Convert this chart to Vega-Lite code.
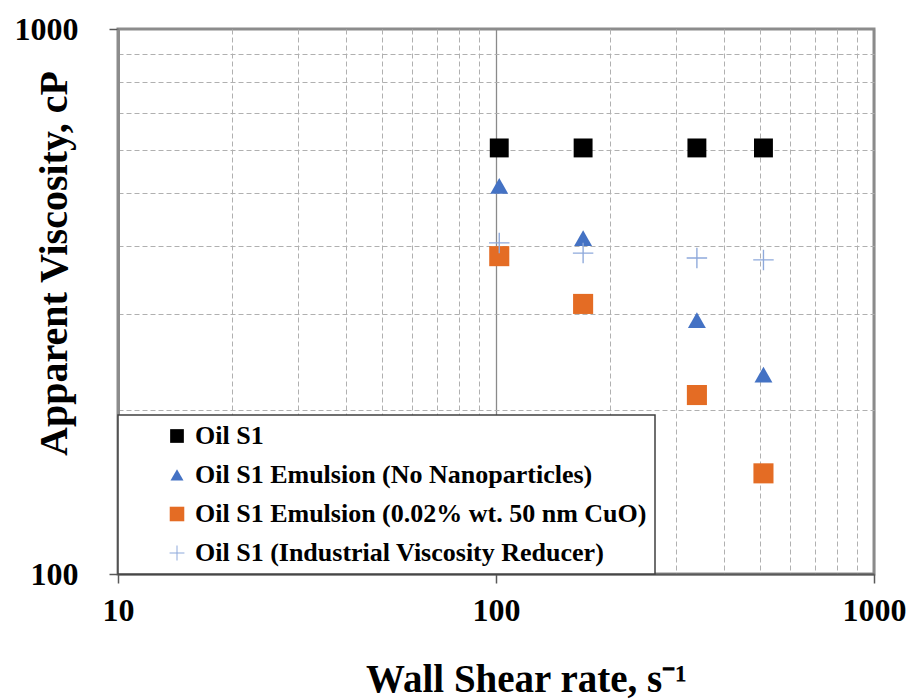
{
  "$schema": "https://vega.github.io/schema/vega-lite/v6.json",
  "width": 756,
  "height": 545,
  "autosize": {"type": "none"},
  "padding": {"left": 118, "top": 29, "right": 38, "bottom": 126},
  "background": "white",
  "config": {
    "font": "Liberation Serif",
    "view": {"stroke": "#8c8c8c", "strokeWidth": 3},
    "legend": {
      "orient": "bottom-left",
      "offset": 0,
      "padding": 8,
      "symbolOffset": 38,
      "rowPadding": 13,
      "fillColor": "white",
      "strokeColor": "#404040",
      "strokeWidth": 1.5,
      "labelFont": "Liberation Serif",
      "labelFontWeight": "bold",
      "labelFontSize": 26,
      "labelColor": "black",
      "labelLimit": 0,
      "labelOffset": 5,
      "symbolSize": 200,
      "symbolStrokeWidth": 0
    }
  },
  "data": {
    "values": [
      {"series": "Oil S1", "rate": 102, "visc": 605},
      {"series": "Oil S1", "rate": 170, "visc": 605},
      {"series": "Oil S1", "rate": 340, "visc": 605},
      {"series": "Oil S1", "rate": 510, "visc": 605},
      {"series": "Oil S1 Emulsion (No Nanoparticles)", "rate": 102, "visc": 515},
      {"series": "Oil S1 Emulsion (No Nanoparticles)", "rate": 170, "visc": 413},
      {"series": "Oil S1 Emulsion (No Nanoparticles)", "rate": 340, "visc": 292},
      {"series": "Oil S1 Emulsion (No Nanoparticles)", "rate": 510, "visc": 232},
      {"series": "Oil S1 Emulsion (0.02% wt. 50 nm CuO)", "rate": 102, "visc": 383},
      {"series": "Oil S1 Emulsion (0.02% wt. 50 nm CuO)", "rate": 170, "visc": 313},
      {"series": "Oil S1 Emulsion (0.02% wt. 50 nm CuO)", "rate": 340, "visc": 213},
      {"series": "Oil S1 Emulsion (0.02% wt. 50 nm CuO)", "rate": 510, "visc": 153},
      {"series": "Oil S1 (Industrial Viscosity Reducer)", "rate": 102, "visc": 405},
      {"series": "Oil S1 (Industrial Viscosity Reducer)", "rate": 170, "visc": 388},
      {"series": "Oil S1 (Industrial Viscosity Reducer)", "rate": 340, "visc": 380},
      {"series": "Oil S1 (Industrial Viscosity Reducer)", "rate": 510, "visc": 377}
    ]
  },
  "resolve": {"axis": {"x": "independent", "y": "independent"}},
  "layer": [
    {
      "mark": {"type": "point", "opacity": 0},
      "encoding": {
        "x": {
          "field": "rate", "type": "quantitative",
          "scale": {"type": "log", "domain": [10, 1000]},
          "axis": {
            "orient": "bottom",
            "values": [20, 30, 40, 50, 60, 70, 80, 90, 200, 300, 400, 500, 600, 700, 800, 900],
            "grid": true, "gridColor": "#b0b0b0", "gridDash": [5, 3], "gridWidth": 1,
            "labels": false, "ticks": false, "domain": false, "title": null
          }
        },
        "y": {
          "field": "visc", "type": "quantitative",
          "scale": {"type": "log", "domain": [100, 1000]},
          "axis": {
            "orient": "left",
            "values": [200, 300, 400, 500, 600, 700, 800, 900],
            "grid": true, "gridColor": "#b0b0b0", "gridDash": [5, 3], "gridWidth": 1,
            "labels": false, "ticks": false, "domain": false, "title": null
          }
        }
      }
    },
    {
      "mark": {"type": "point", "filled": true, "opacity": 1, "strokeWidth": 0, "size": 380},
      "encoding": {
        "x": {
          "field": "rate", "type": "quantitative",
          "scale": {"type": "log", "domain": [10, 1000]},
          "axis": {
            "orient": "bottom",
            "values": [10, 100, 1000],
            "format": "d",
            "grid": true, "gridColor": "#8a8a8a", "gridWidth": 1.3,
            "domain": true, "domainColor": "#595959", "domainWidth": 2,
            "ticks": true, "tickColor": "#595959", "tickSize": 9, "tickWidth": 1.5,
            "labelFont": "Liberation Serif", "labelFontWeight": "bold", "labelFontSize": 32,
            "labelColor": "black", "labelPadding": 12, "labelFlush": false,
            "title": "Wall Shear rate, s⁻¹",
            "titleFont": "Liberation Serif", "titleFontWeight": "bold", "titleFontSize": 39,
            "titleColor": "black", "titleX": 408, "titleY": 117,
            "titleAlign": "center", "titleBaseline": "alphabetic"
          }
        },
        "y": {
          "field": "visc", "type": "quantitative",
          "scale": {"type": "log", "domain": [100, 1000]},
          "axis": {
            "orient": "left",
            "values": [100, 1000],
            "format": "d",
            "grid": false,
            "domain": true, "domainColor": "#8c8c8c", "domainWidth": 3,
            "ticks": true, "tickColor": "#595959", "tickSize": 9, "tickWidth": 1.5,
            "labelFont": "Liberation Serif", "labelFontWeight": "bold", "labelFontSize": 32,
            "labelColor": "black", "labelPadding": 31, "labelFlush": false,
            "title": "Apparent Viscosity, cP",
            "titleFont": "Liberation Serif", "titleFontWeight": "bold", "titleFontSize": 40,
            "titleColor": "black", "titleX": -52, "titleY": 234, "titleAngle": -90,
            "titleAlign": "center", "titleBaseline": "alphabetic"
          }
        },
        "color": {
          "field": "series", "type": "nominal",
          "scale": {
            "domain": ["Oil S1", "Oil S1 Emulsion (No Nanoparticles)", "Oil S1 Emulsion (0.02% wt. 50 nm CuO)", "Oil S1 (Industrial Viscosity Reducer)"],
            "range": ["#000000", "#4472C4", "#E46C24", "#8EA9DB"]
          },
          "legend": {"title": null}
        },
        "shape": {
          "field": "series", "type": "nominal",
          "scale": {
            "domain": ["Oil S1", "Oil S1 Emulsion (No Nanoparticles)", "Oil S1 Emulsion (0.02% wt. 50 nm CuO)", "Oil S1 (Industrial Viscosity Reducer)"],
            "range": ["M-0.97,-0.97H0.97V0.97H-0.97Z", "M0,-0.82L0.92,0.78L-0.92,0.78Z", "M-1.03,-1.03H1.03V1.03H-1.03Z", "M-1.05,-0.07H-0.07V-1.05H0.07V-0.07H1.05V0.07H0.07V1.05H-0.07V0.07H-1.05Z"]
          },
          "legend": {"title": null}
        }
      }
    }
  ]
}
